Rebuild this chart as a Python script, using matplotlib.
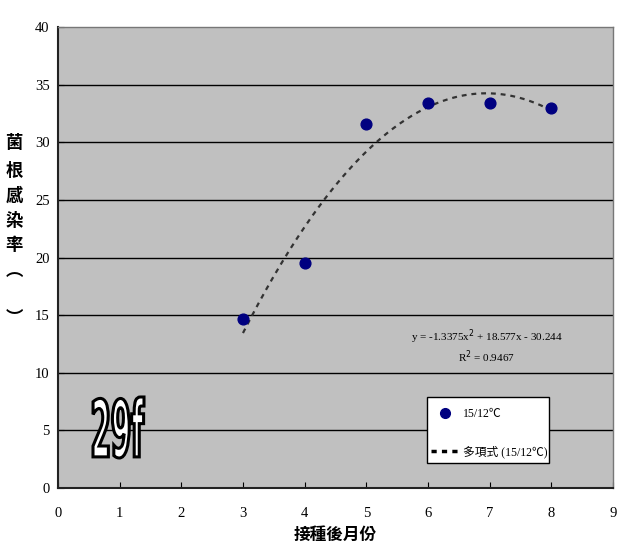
import numpy as np
import matplotlib
matplotlib.use("Agg")
import matplotlib.pyplot as plt
from matplotlib.lines import Line2D
from matplotlib.textpath import TextPath
from matplotlib.patches import PathPatch, Rectangle
from matplotlib.font_manager import FontProperties
from matplotlib.transforms import Affine2D, IdentityTransform

plt.rcParams['font.family'] = ['Liberation Serif', 'Noto Sans CJK TC', 'DejaVu Sans']

# Months after inoculation and mycorrhizal infection rate (%)
months = [3, 4, 5, 6, 7, 8]
infection = [14.7, 19.5, 31.6, 33.4, 33.4, 33.0]
# Second-order polynomial trend coefficients (a*x^2 + b*x + c)
coef = [-1.3375, 18.577, -30.244]
r2 = 0.9467
series_name = "15/12\u2103"
trend_name = "多項式 (15/12\u2103)"
x_label = "接種後月份"
y_label_chars = ["菌", "根", "感", "染", "率", "︵", "", "︶"]
x_ticks = list(range(0, 10))
y_ticks = list(range(0, 45, 5))
panel_tag = "29f"

W, H = 623, 544
fig = plt.figure(figsize=(W / 100, H / 100), dpi=100)
ax = fig.add_axes([0.093, 0.103, 0.891, 0.847])
ax.set_facecolor('#C0C0C0')
ax.set_xlim(0, 9)
ax.set_ylim(0, 40)

for yv in y_ticks[1:-1]:
    ax.axhline(yv, color='black', lw=1.0, zorder=1)

xs = np.linspace(min(months), max(months), 200)
ys = np.polyval(coef, xs)
ax.plot(xs, ys, color='#333333', lw=1.6, ls=(0, (2.2, 2.2)), zorder=2)
ax.scatter(months, infection, s=60, color='#000080', zorder=3)

ax.set_xticks(x_ticks)
ax.set_yticks(y_ticks)
ax.tick_params(direction='in', length=4, labelsize=10.5, colors='black')
ax.tick_params(axis='x', pad=14)
ax.tick_params(axis='y', pad=6)
for s in ['left', 'bottom']:
    ax.spines[s].set_color('#222222')
    ax.spines[s].set_linewidth(1.5)
for s in ['top', 'right']:
    ax.spines[s].set_color('#777777')
    ax.spines[s].set_linewidth(1.0)

eq = (f"y = {coef[0]}x$^{{2}}$ + {coef[1]}x - {abs(coef[2])}")
ax.text(6.95, 13.1, eq, ha='center', va='center', fontsize=8)
ax.text(6.95, 11.4, f"R$^{{2}}$ = {r2}", ha='center', va='center', fontsize=8)

ax.set_xlabel(x_label, fontsize=12, fontweight='bold',
              family=['Noto Sans CJK TC'], labelpad=4)

ys_pix = [143, 171, 196, 221, 245, 272, 295, 318]
for ch, yp in zip(y_label_chars, ys_pix):
    if ch:
        fig.text(14 / W, 1 - yp / H, ch, ha='center', va='center',
                 fontsize=12.5, fontweight='heavy', family=['Noto Sans CJK TC'])

# Panel tag: narrow, tall outlined lettering
tp = TextPath((0, 0), panel_tag, size=1,
              prop=FontProperties(family='DejaVu Sans', weight='bold'))
ext = tp.get_extents()
x0, x1, y0, y1 = 93, 144, 397, 458
sx = (x1 - x0) / ext.width
sy = (y1 - y0) / ext.height
tr = (Affine2D().translate(-ext.x0, -ext.y0).scale(sx, sy)
      .translate(x0, H - y1))
tag = PathPatch(tr.transform_path(tp), transform=IdentityTransform(),
                facecolor='white', edgecolor='black', lw=2.2, zorder=5)
fig.add_artist(tag)

# Legend box drawn separately so its padding can differ per direction
ax.add_patch(Rectangle((0.665, 0.054), 0.220, 0.143, transform=ax.transAxes,
                       facecolor='white', edgecolor='black', lw=1.0, zorder=6))
handles = [
    Line2D([], [], ls='none', marker='o', color='#000080', markersize=7),
    Line2D([], [], color='black', lw=2.5, ls=(0, (1.5, 1.5))),
]
leg = ax.legend(handles, [series_name, trend_name], loc='center',
                bbox_to_anchor=(0.777, 0.119), frameon=False, fontsize=8.5,
                handlelength=2.4, handletextpad=0.3, borderpad=0.0,
                borderaxespad=0, labelspacing=2.2)
leg.set_zorder(7)

fig.savefig("out.png", dpi=100)
